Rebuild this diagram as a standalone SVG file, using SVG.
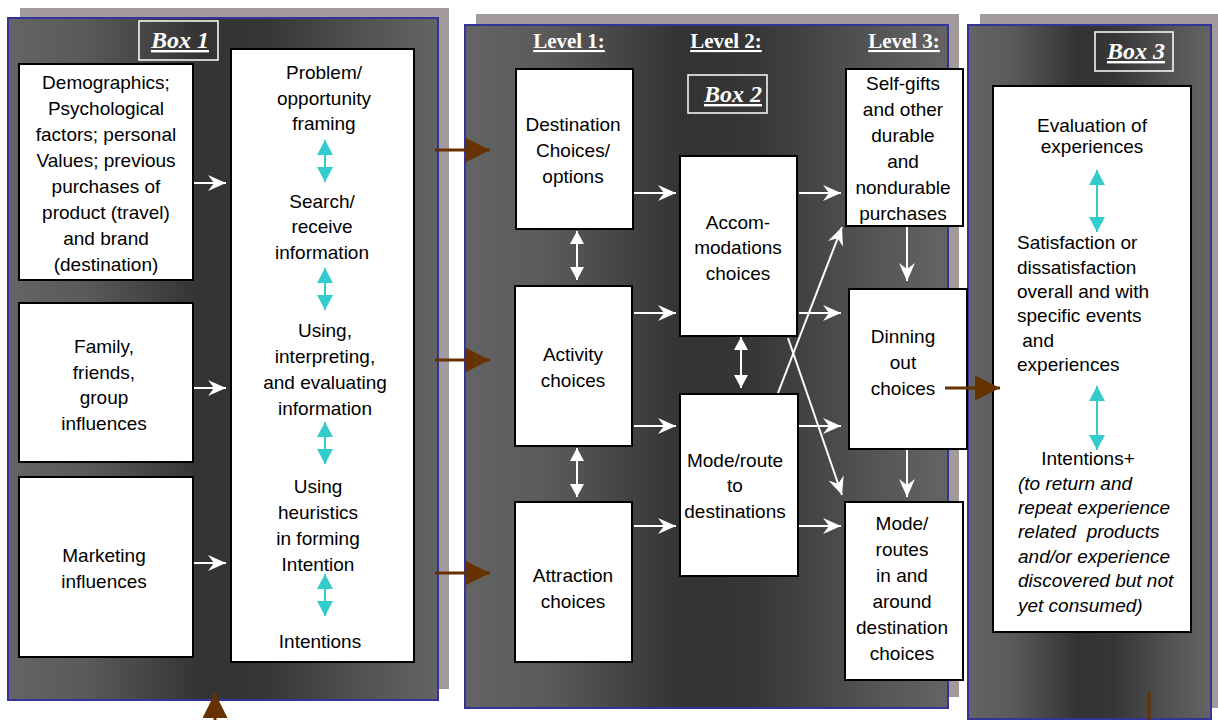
<svg xmlns="http://www.w3.org/2000/svg" width="1218" height="720" viewBox="0 0 1218 720">
<defs>
<linearGradient id="panelGrad" x1="0" y1="0" x2="1" y2="0">
<stop offset="0" stop-color="#646464"/>
<stop offset="0.18" stop-color="#5a5a5a"/>
<stop offset="0.45" stop-color="#333333"/>
<stop offset="0.6" stop-color="#363636"/>
<stop offset="0.85" stop-color="#555555"/>
<stop offset="1" stop-color="#646464"/>
</linearGradient>
<marker id="wArrow" markerUnits="userSpaceOnUse" markerWidth="20" markerHeight="16" refX="18" refY="8" orient="auto">
<path d="M0,0 L18,8 L0,16 L6,8 z" fill="#ffffff"/>
</marker>
<marker id="wTri" markerUnits="userSpaceOnUse" markerWidth="14" markerHeight="14" refX="13" refY="7" orient="auto-start-reverse">
<path d="M0,0 L13,7 L0,14 z" fill="#ffffff"/>
</marker>
<marker id="cTri" markerUnits="userSpaceOnUse" markerWidth="15" markerHeight="16" refX="15" refY="8" orient="auto-start-reverse">
<path d="M0,0 L15,8 L0,16 z" fill="#33cccc"/>
</marker>
<marker id="bTri" markerUnits="userSpaceOnUse" markerWidth="26" markerHeight="26" refX="25" refY="12.5" orient="auto">
<path d="M0,0 L25,12.5 L0,25 z" fill="#663300"/>
</marker>
</defs>
<style>
.shadow{fill:#a39a9c}
.panel{fill:url(#panelGrad);stroke:#333399;stroke-width:2}
.node{fill:#ffffff;stroke:#000000;stroke-width:2}
.t{font-family:"Liberation Sans",Arial,sans-serif;font-size:19px;fill:#000000;text-anchor:middle}
.tl{font-family:"Liberation Sans",Arial,sans-serif;font-size:19px;fill:#000000;white-space:pre}
.ti{font-family:"Liberation Sans",Arial,sans-serif;font-size:19px;font-style:italic;fill:#000000;white-space:pre}
.lbl{fill:none;stroke:#ffffff;stroke-width:1.5}
.boxt{font-family:"Liberation Serif","Times New Roman",serif;font-size:24px;font-weight:bold;font-style:italic;fill:#ffffff;text-anchor:middle;text-decoration:underline}
.lev{font-family:"Liberation Serif","Times New Roman",serif;font-size:21px;font-weight:bold;fill:#ffffff;text-anchor:middle;text-decoration:underline}
.wa{stroke:#ffffff;stroke-width:2;fill:none;marker-end:url(#wArrow)}
.wd{stroke:#ffffff;stroke-width:2;fill:none;marker-start:url(#wTri);marker-end:url(#wTri)}
.cd{stroke:#33cccc;stroke-width:2;fill:none;marker-start:url(#cTri);marker-end:url(#cTri)}
.ba{stroke:#663300;stroke-width:3;fill:none;marker-end:url(#bTri)}
</style>

<g id="panels">
<rect class="shadow" x="20" y="8" width="429" height="681"/>
<rect class="panel" x="8" y="18" width="430" height="682"/>
<rect class="shadow" x="476" y="14" width="483" height="683"/>
<rect class="panel" x="465" y="25" width="483" height="683"/>
<rect class="shadow" x="980" y="14" width="242" height="694"/>
<rect class="panel" x="968" y="25" width="243" height="694"/>
</g>

<g id="box1-label">
<rect class="lbl" x="139" y="21" width="79" height="39"/>
<text class="boxt" x="180" y="48">Box 1</text>
</g>
<g id="box2-label">
<rect class="lbl" x="688" y="75" width="79" height="38"/>
<text class="boxt" x="733" y="102">Box 2</text>
</g>
<g id="box3-label">
<rect class="lbl" x="1095" y="32" width="78" height="39"/>
<text class="boxt" x="1136" y="59">Box 3</text>
</g>
<g id="levels">
<text class="lev" x="569" y="48">Level 1:</text>
<text class="lev" x="726" y="48">Level 2:</text>
<text class="lev" x="904" y="48">Level 3:</text>
</g>

<g id="n-demographics">
<rect class="node" x="19" y="64" width="174" height="216"/>
<text class="t" x="106" y="89">Demographics;</text>
<text class="t" x="106" y="115">Psychological</text>
<text class="t" x="106" y="141">factors; personal</text>
<text class="t" x="106" y="167">Values; previous</text>
<text class="t" x="106" y="193">purchases of</text>
<text class="t" x="106" y="219">product (travel)</text>
<text class="t" x="106" y="245">and brand</text>
<text class="t" x="106" y="271">(destination)</text>
</g>
<g id="n-family">
<rect class="node" x="19" y="303" width="174" height="159"/>
<text class="t" x="104" y="353">Family,</text>
<text class="t" x="104" y="379">friends,</text>
<text class="t" x="104" y="404">group</text>
<text class="t" x="104" y="430">influences</text>
</g>
<g id="n-marketing">
<rect class="node" x="19" y="477" width="174" height="180"/>
<text class="t" x="104" y="562">Marketing</text>
<text class="t" x="104" y="588">influences</text>
</g>
<g id="n-process">
<rect class="node" x="231" y="49" width="183" height="613"/>
<text class="t" x="324" y="79">Problem/</text>
<text class="t" x="324" y="105">opportunity</text>
<text class="t" x="324" y="130">framing</text>
<text class="t" x="322" y="208">Search/</text>
<text class="t" x="322" y="233">receive</text>
<text class="t" x="322" y="259">information</text>
<text class="t" x="325" y="337">Using,</text>
<text class="t" x="325" y="363">interpreting,</text>
<text class="t" x="325" y="389">and evaluating</text>
<text class="t" x="325" y="415">information</text>
<text class="t" x="318" y="493">Using</text>
<text class="t" x="318" y="519">heuristics</text>
<text class="t" x="318" y="545">in forming</text>
<text class="t" x="318" y="571">Intention</text>
<text class="t" x="320" y="648">Intentions</text>
</g>

<g id="n-destination">
<rect class="node" x="516" y="69" width="117" height="160"/>
<text class="t" x="573" y="131">Destination</text>
<text class="t" x="573" y="157">Choices/</text>
<text class="t" x="573" y="183">options</text>
</g>
<g id="n-activity">
<rect class="node" x="515" y="286" width="117" height="160"/>
<text class="t" x="573" y="361">Activity</text>
<text class="t" x="573" y="387">choices</text>
</g>
<g id="n-attraction">
<rect class="node" x="515" y="502" width="117" height="160"/>
<text class="t" x="573" y="582">Attraction</text>
<text class="t" x="573" y="608">choices</text>
</g>
<g id="n-accommodations">
<rect class="node" x="680" y="156" width="117" height="180"/>
<text class="t" x="738" y="229">Accom-</text>
<text class="t" x="738" y="254">modations</text>
<text class="t" x="738" y="280">choices</text>
</g>
<g id="n-moderoute">
<rect class="node" x="680" y="394" width="118" height="182"/>
<text class="t" x="735" y="467">Mode/route</text>
<text class="t" x="735" y="492">to</text>
<text class="t" x="735" y="518">destinations</text>
</g>
<g id="n-selfgifts">
<rect class="node" x="846" y="69" width="117" height="157"/>
<text class="t" x="903" y="90">Self-gifts</text>
<text class="t" x="903" y="116">and other</text>
<text class="t" x="903" y="142">durable</text>
<text class="t" x="903" y="168">and</text>
<text class="t" x="903" y="194">nondurable</text>
<text class="t" x="903" y="220">purchases</text>
</g>
<g id="n-dinning">
<rect class="node" x="849" y="289" width="118" height="160"/>
<text class="t" x="903" y="343">Dinning</text>
<text class="t" x="903" y="369">out</text>
<text class="t" x="903" y="395">choices</text>
</g>
<g id="n-moderoutes">
<rect class="node" x="845" y="502" width="118" height="178"/>
<text class="t" x="902" y="530">Mode/</text>
<text class="t" x="902" y="556">routes</text>
<text class="t" x="902" y="582">in and</text>
<text class="t" x="902" y="608">around</text>
<text class="t" x="902" y="634">destination</text>
<text class="t" x="902" y="660">choices</text>
</g>

<g id="n-evaluation">
<rect class="node" x="993" y="86" width="198" height="546"/>
<text class="t" x="1092" y="132">Evaluation of</text>
<text class="t" x="1092" y="153">experiences</text>
<text class="tl" x="1017" y="249">Satisfaction or</text>
<text class="tl" x="1017" y="274">dissatisfaction</text>
<text class="tl" x="1017" y="298">overall and with</text>
<text class="tl" x="1017" y="322">specific events</text>
<text class="tl" x="1017" y="347"> and</text>
<text class="tl" x="1017" y="371">experiences</text>
<text class="t" x="1088" y="465">Intentions+</text>
<text class="ti" x="1018" y="490">(to return and</text>
<text class="ti" x="1018" y="514">repeat experience</text>
<text class="ti" x="1018" y="538">related  products</text>
<text class="ti" x="1018" y="563">and/or experience</text>
<text class="ti" x="1018" y="587">discovered but not</text>
<text class="ti" x="1018" y="612">yet consumed)</text>
</g>

<g id="connectors">
<line class="wa" x1="194" y1="183" x2="226" y2="183"/>
<line class="wa" x1="194" y1="388" x2="226" y2="388"/>
<line class="wa" x1="194" y1="563" x2="226" y2="563"/>
<line class="cd" x1="325" y1="140" x2="325" y2="182"/>
<line class="cd" x1="325" y1="268" x2="325" y2="310"/>
<line class="cd" x1="325" y1="422" x2="325" y2="464"/>
<line class="cd" x1="325" y1="574" x2="325" y2="616"/>
<line class="ba" x1="435" y1="150" x2="490" y2="150"/>
<line class="ba" x1="435" y1="360" x2="490" y2="360"/>
<line class="ba" x1="435" y1="573" x2="490" y2="573"/>
<line class="ba" x1="215" y1="720" x2="215" y2="693"/>
<line class="wd" x1="577" y1="231" x2="577" y2="280"/>
<line class="wd" x1="577" y1="448" x2="577" y2="497"/>
<line class="wd" x1="741" y1="337" x2="741" y2="388"/>
<line class="wa" x1="634" y1="193" x2="676" y2="193"/>
<line class="wa" x1="634" y1="313" x2="676" y2="313"/>
<line class="wa" x1="634" y1="426" x2="676" y2="426"/>
<line class="wa" x1="634" y1="526" x2="676" y2="526"/>
<line class="wa" x1="799" y1="193" x2="841" y2="193"/>
<line class="wa" x1="799" y1="313" x2="841" y2="313"/>
<line class="wa" x1="799" y1="426" x2="841" y2="426"/>
<line class="wa" x1="799" y1="526" x2="841" y2="526"/>
<line class="wa" x1="778" y1="393" x2="842" y2="227"/>
<line class="wa" x1="788" y1="338" x2="842" y2="495"/>
<line class="wa" x1="907" y1="227" x2="907" y2="281"/>
<line class="wa" x1="907" y1="450" x2="907" y2="497"/>
<line class="ba" x1="945" y1="388" x2="1000" y2="388"/>
<line class="cd" x1="1097" y1="170" x2="1097" y2="232"/>
<line class="cd" x1="1097" y1="386" x2="1097" y2="450"/>
<line x1="1149" y1="692" x2="1149" y2="720" stroke="#663300" stroke-width="3"/>
</g>
</svg>
